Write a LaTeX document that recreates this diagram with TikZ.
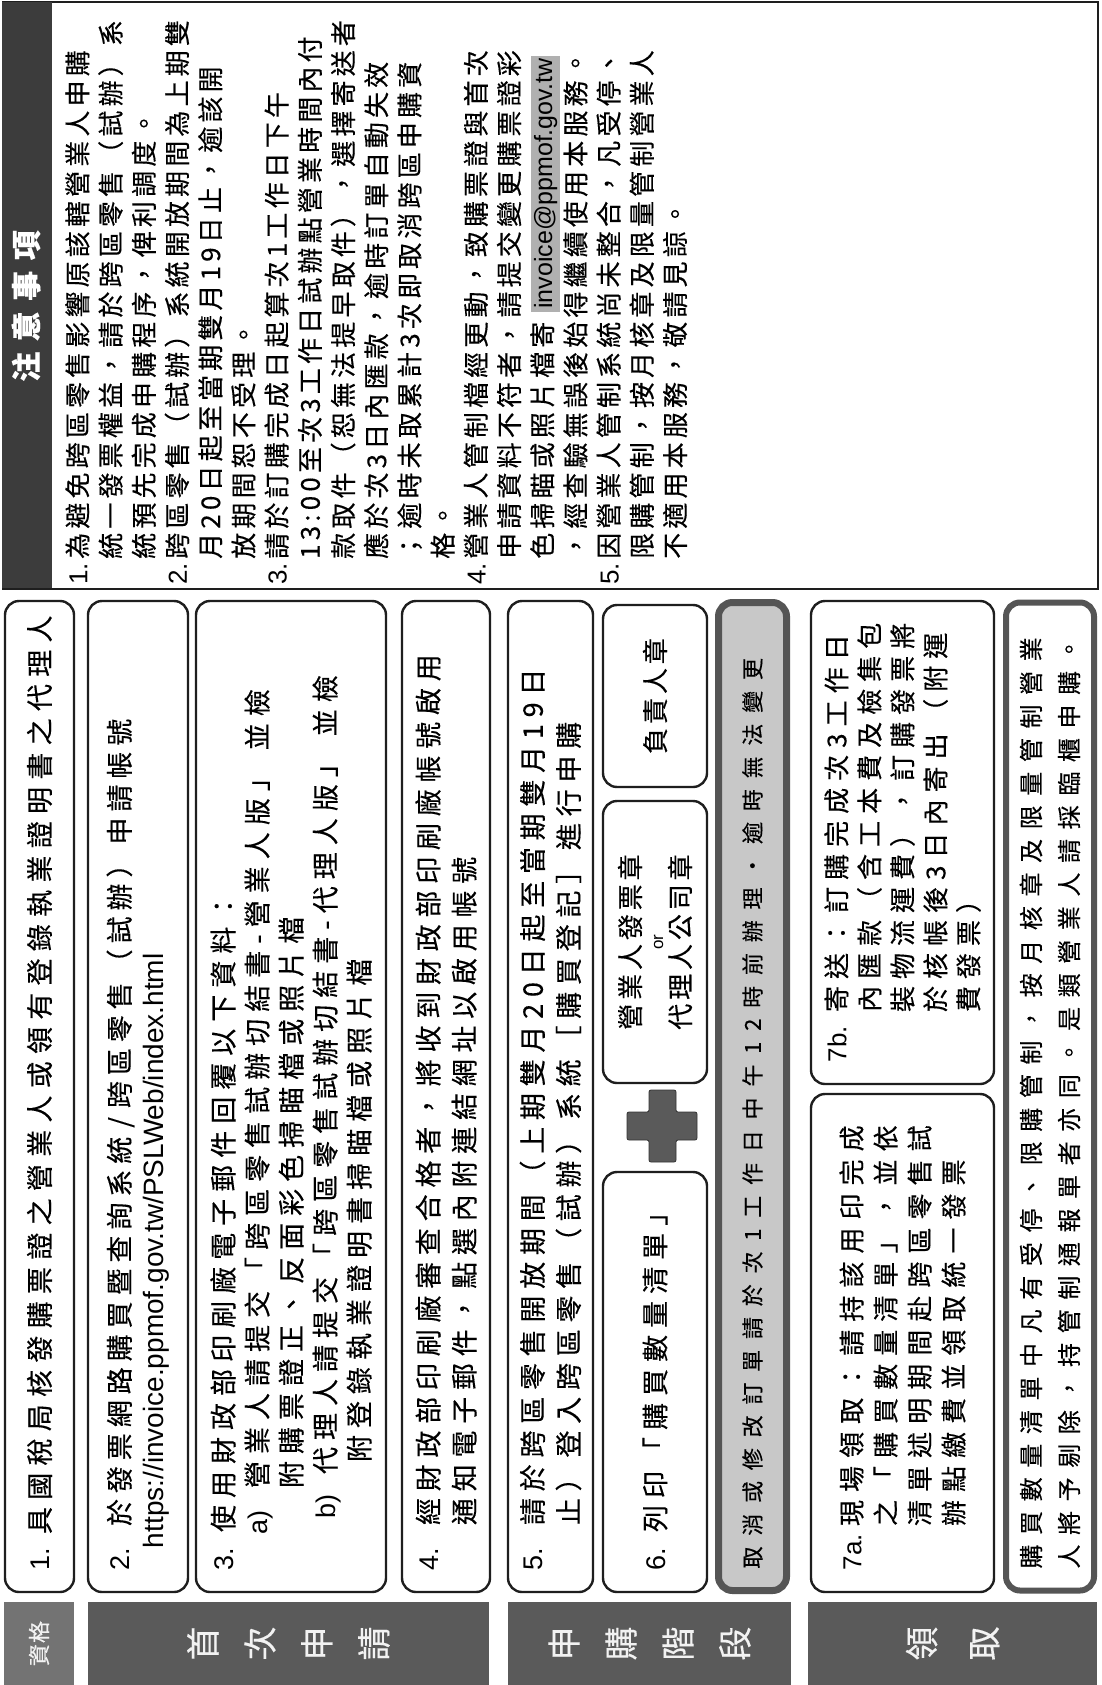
\documentclass[tikz,border=0pt]{standalone}
\usepackage{fontspec}
\setmainfont{Noto Sans CJK TC}
\newfontfamily\latinf{Liberation Sans}
\definecolor{boxline}{HTML}{1E1E1E}
\definecolor{labelgray}{HTML}{5A5A5A}
\definecolor{labeltext}{HTML}{F2F2F2}
\definecolor{hdrgray}{HTML}{3C3C3C}
\definecolor{bandfill}{HTML}{C8C8C8}
\definecolor{bandline}{HTML}{555555}
\definecolor{mailbg}{HTML}{B0B0B0}
\definecolor{plusgray}{HTML}{5A5A5A}
\newcommand\myfnt[3]{\fontsize{#1}{#2}\selectfont\addfontfeature{LetterSpace=#3,FakeBold=0.3}}
\newcommand\nbox[2]{\makebox[#1][l]{\latinf #2}}
\setlength{\fboxsep}{3pt}
\begin{document}
\begin{tikzpicture}[x=1pt,y=1pt,
  bx/.style={draw=boxline, line width=2.4pt, rounded corners=14pt, fill=white, rotate=90, inner xsep=22pt, inner ysep=0pt, align=left},
  bxc/.style={draw=boxline, line width=2.4pt, rounded corners=14pt, fill=white, rotate=90, inner sep=0pt, align=center},
  lbl/.style={fill=labelgray, rotate=90, text=labeltext, align=center, inner sep=0pt},
]
\useasboundingbox (0,0) rectangle (1101,-1685);
\fill[white] (0,0) rectangle (1101,-1685);

% ---------- notes panel ----------
\node[draw=boxline, line width=2pt, fill=white, anchor=north west, minimum width=1095pt, minimum height=586pt, inner sep=0pt] (notes) at (1.5,-1.5) {};
\node[fill=hdrgray, anchor=north west, minimum width=50pt, minimum height=586pt, inner sep=0pt] (hdr) at (1.5,-1.5) {};
\node[rotate=90, text=white, font={\bfseries\myfnt{30}{36}{35}}, inner sep=0pt] (hdrtxt) at (26,-306) {注意事項};
\node[rotate=90, anchor=north west, align=left, inner sep=0pt, font={\myfnt{26}{33.2}{16}}] (ntxt) at (65,-585) {%
\nbox{26pt}{1.}為避免跨區零售影響原該轄營業人申購\\
\hspace*{26pt}統一發票權益，請於跨區零售（試辦）系\\
\hspace*{26pt}統預先完成申購程序，俾利調度。\\
\nbox{26pt}{2.}跨區零售（試辦）系統開放期間為上期雙\\
\hspace*{26pt}月20日起至當期雙月19日止，逾該開\\
\hspace*{26pt}放期間恕不受理。\\
\nbox{26pt}{3.}請於訂購完成日起算次1工作日下午\\
\hspace*{26pt}13:00至次3工作日試辦點營業時間內付\\
\hspace*{26pt}款取件（恕無法提早取件），選擇寄送者\\
\hspace*{26pt}應於次3日內匯款，逾時訂單自動失效\\
\hspace*{26pt}；逾時未取累計3次即取消跨區申購資\\
\hspace*{26pt}格。\\
\nbox{26pt}{4.}營業人管制檔經更動，致購票證與首次\\
\hspace*{26pt}申請資料不符者，請提交變更購票證彩\\
\hspace*{26pt}色掃瞄或照片檔寄 \colorbox{mailbg}{\latinf\fontsize{25}{30}\selectfont invoice@ppmof.gov.tw}\\
\hspace*{26pt}，經查驗無誤後始得繼續使用本服務。\\
\nbox{26pt}{5.}因營業人管制系統尚未整合，凡受停、\\
\hspace*{26pt}限購管制，按月核章及限量管制營業人\\
\hspace*{26pt}不適用本服務，敬請見諒。};

% ---------- column boxes ----------
\node[bx, minimum width=991pt, minimum height=69pt, text width=947pt, font={\myfnt{27}{35}{27}}] (b1) at (39.5,-1096.5)
 {\nbox{36pt}{1.}具國稅局核發購票證之營業人或領有登錄執業證明書之代理人};

\node[bx, minimum width=991pt, minimum height=100pt, text width=947pt, font={\myfnt{27}{34}{22}}] (b2) at (138,-1096.5)
 {\nbox{44pt}{2.}於發票網路購買暨查詢系統 / 跨區零售（試辦）申請帳號\\
  \hspace*{22pt}{\latinf\fontsize{28}{34}\selectfont https://invoice.ppmof.gov.tw/PSLWeb/index.html}};

\node[bx, minimum width=991pt, minimum height=190pt, text width=947pt, font={\myfnt{27}{34}{26}}] (b3) at (291,-1096.5)
 {\nbox{38pt}{3.}使用財政部印刷廠電子郵件回覆以下資料：\\
  \hspace*{36pt}\nbox{46pt}{a)}營業人請提交「跨區零售試辦切結書-營業人版」\hspace{14pt}並檢\\
  \hspace*{82pt}附購票證正、反面彩色掃瞄檔或照片檔\\
  \hspace*{52pt}\nbox{44pt}{b)}代理人請提交「跨區零售試辦切結書-代理人版」\hspace{14pt}並檢\\
  \hspace*{108pt}附登錄執業證明書掃瞄檔或照片檔};

\node[bx, minimum width=991pt, minimum height=88pt, text width=947pt, font={\myfnt{27}{36}{25}}] (b4) at (446,-1096.5)
 {\nbox{45pt}{4.}經財政部印刷廠審查合格者，將收到財政部印刷廠帳號啟用\\
  \hspace*{45pt}通知電子郵件，點選內附連結網址以啟用帳號};

\node[bx, minimum width=991pt, minimum height=85pt, text width=947pt, font={\myfnt{27}{36}{25}}] (b5) at (550.5,-1096.5)
 {\nbox{45pt}{5.}請於跨區零售開放期間（上期雙月20日起至當期雙月19日\\
  \hspace*{45pt}止）登入跨區零售（試辦）系統［購買登記］進行申購};

\node[bxc, minimum width=182pt, minimum height=104pt, font={\myfnt{26}{30}{15}}] (seal1) at (655,-696) {負責人章};
\node[bxc, minimum width=282pt, minimum height=104pt, font={\myfnt{26}{31}{15}}] (seal2) at (655,-942)
 {營業人發票章\\[-8pt]{\latinf\fontsize{17}{17}\selectfont or}\\[-4pt]代理人公司章};
\fill[plusgray, draw=black!80, line width=0.8pt, rounded corners=2pt]
 (649,-1090) -- (676,-1090) -- (676,-1112) -- (697,-1112) -- (697,-1140) -- (676,-1140)
 -- (676,-1162) -- (649,-1162) -- (649,-1140) -- (627,-1140) -- (627,-1112) -- (649,-1112) -- cycle;
\node[bx, minimum width=420pt, minimum height=104pt, text width=376pt, font={\myfnt{27}{34}{26}}] (b6) at (655,-1382)
 {\nbox{38pt}{6.}列印「購買數量清單」};

\node[bx, draw=bandline, line width=7pt, fill=bandfill, minimum width=988pt, minimum height=68pt, text width=944pt, font={\myfnt{22}{30}{49}}] (band) at (752.5,-1096.5)
 {取消或修改訂單請於次1工作日中午12時前辦理・逾時無法變更};

\node[bx, minimum width=483pt, minimum height=183pt, text width=439pt, font={\myfnt{26}{33}{27}}] (b7b) at (902.5,-842.5)
 {\nbox{50pt}{7b.}寄送：訂購完成次3工作日\\
  \hspace*{50pt}內匯款（含工本費及檢集包\\
  \hspace*{50pt}裝物流運費），訂購發票將\\
  \hspace*{50pt}於核帳後3日內寄出 （附運\\
  \hspace*{50pt}費發票）};

\node[bx, minimum width=498pt, minimum height=183pt, text width=454pt, font={\myfnt{26}{34}{31}}] (b7a) at (902.5,-1343)
 {\nbox{44pt}{7a.}現場領取：請持該用印完成\\
  \hspace*{44pt}之「購買數量清單」，並依\\
  \hspace*{44pt}清單述明期間赴跨區零售試\\
  \hspace*{44pt}辦點繳費並領取統一發票};

\node[bx, draw=bandline, line width=6pt, minimum width=988pt, minimum height=88pt, text width=944pt, font={\myfnt{24}{38}{40}}] (b8) at (1050,-1096.5)
 {購買數量清單中凡有受停、限購管制，按月核章及限量管制營業\\
  人將予剔除，持管制通報單者亦同。是類營業人請採臨櫃申購。};

% ---------- stage labels ----------
\node[lbl, fill=labelgray!85, minimum width=83pt, minimum height=70pt, font={\myfnt{22}{26}{5}}] (l1) at (39,-1643.5) {資格};
\node[lbl, minimum width=83pt, minimum height=401pt, font={\myfnt{34}{57}{0}}] (l2) at (288.5,-1643.5) {首\\次\\申\\請};
\node[lbl, minimum width=83pt, minimum height=283pt, font={\myfnt{34}{57}{0}}] (l3) at (649.5,-1643.5) {申\\購\\階\\段};
\node[lbl, minimum width=83pt, minimum height=289pt, font={\myfnt{34}{62}{0}}] (l4) at (952.5,-1643.5) {領\\取};
\end{tikzpicture}
\end{document}
